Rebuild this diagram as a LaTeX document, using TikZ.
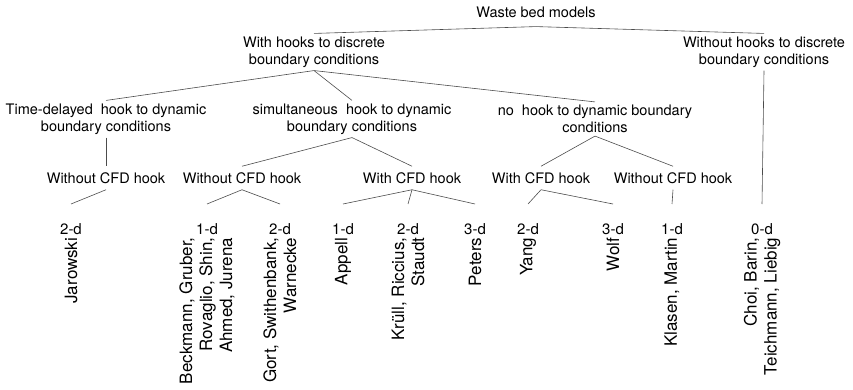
\documentclass[tikz,border=0pt]{standalone}
\usepackage{fontspec}
\setmainfont{TeX Gyre Heros}
\usepackage{tikz}
\usepackage{xcolor}
\usetikzlibrary{positioning}
\tikzstyle{group}=[align=center, inner sep=3pt, font=\fontsize{14.5}{17}\selectfont]
\tikzstyle{hook}=[group, inner ysep=6pt]
\tikzstyle{dim}=[inner sep=2pt, font=\fontsize{15}{18}\selectfont]
\tikzstyle{authors}=[rotate=90, anchor=east, align=right, inner sep=1pt, font=\fontsize{17}{20}\selectfont]
\tikzstyle{branch}=[draw=black!70, line width=0.6pt]

\begin{document}
\begin{tikzpicture}[x=1pt, y=-1pt]
    \useasboundingbox (0,0) rectangle (853,390);

    \node[group, inner ysep=9pt] (models) at (536,12) {Waste bed models};
    \node[group] (withhooks) at (314,52) {With hooks to discrete\\boundary conditions};
    \node[group] (nohooks)   at (764,52) {Without hooks to discrete\\boundary conditions};

    \node[group] (delayed) at (106,119) {Time-delayed~ hook to dynamic\\boundary conditions};
    \node[group] (simult)  at (352,119) {simultaneous~ hook to dynamic\\boundary conditions};
    \node[group] (nodyn)   at (595,119) {no~ hook to dynamic boundary\\conditions};

    \node[hook] (hook1) at (106,178) {Without CFD hook};
    \node[hook] (hook2) at (242,178) {Without CFD hook};
    \node[hook] (hook3) at (412,178) {With CFD hook};
    \node[hook] (hook4) at (541,178) {With CFD hook};
    \node[hook] (hook5) at (673,178) {Without CFD hook};

    % leaf ends
    \coordinate (leaf1)  at (71,204);
    \coordinate (leaf2)  at (207,204);
    \coordinate (leaf3)  at (280,204);
    \coordinate (leaf4)  at (343,204);
    \coordinate (leaf5)  at (408,204);
    \coordinate (leaf6)  at (475,204);
    \coordinate (leaf7)  at (528,204);
    \coordinate (leaf8)  at (613,204);
    \coordinate (leaf9)  at (672,204);
    \coordinate (leaf10) at (762,204);

    \node[dim] (dim1)  [below = 17pt of leaf1]  {2-d};
    \node[dim] (dim2)  [below = 17pt of leaf2]  {1-d};
    \node[dim] (dim3)  [below = 17pt of leaf3]  {2-d};
    \node[dim] (dim4)  [below = 17pt of leaf4]  {1-d};
    \node[dim] (dim5)  [below = 17pt of leaf5]  {2-d};
    \node[dim] (dim6)  [below = 17pt of leaf6]  {3-d};
    \node[dim] (dim7)  [below = 17pt of leaf7]  {2-d};
    \node[dim] (dim8)  [below = 17pt of leaf8]  {3-d};
    \node[dim] (dim9)  [below = 17pt of leaf9]  {1-d};
    \node[dim] (dim10) [below = 17pt of leaf10] {0-d};

    \node[authors] (auth1)  at (dim1.south)  {Jarowski};
    \node[authors] (auth2)  at (dim2.south)  {Beckmann, Gruber,\\Rovaglio, Shin,\\Ahmed, Jurena};
    \node[authors] (auth3)  at (dim3.south)  {Gort, Swithenbank,\\Warnecke};
    \node[authors] (auth4)  at (dim4.south)  {Appell};
    \node[authors] (auth5)  at (dim5.south)  {Krüll, Riccius,\\Staudt};
    \node[authors] (auth6)  at (dim6.south)  {Peters};
    \node[authors] (auth7)  at (dim7.south)  {Yang};
    \node[authors] (auth8)  at (dim8.south)  {Wolf};
    \node[authors] (auth9)  at (dim9.south)  {Klasen, Martin};
    \node[authors] (auth10) at (dim10.south) {Choi, Barin,\\Teichmann, Liebig};

    \draw[branch] (models.south) -- (withhooks.north);
    \draw[branch] (models.south) -- (nohooks.north);
    \draw[branch] (withhooks.south) -- (delayed.north);
    \draw[branch] (withhooks.south) -- (simult.north);
    \draw[branch] (withhooks.south) -- (nodyn.north);
    \draw[branch] (delayed.south) -- (hook1.north);
    \draw[branch] (simult.south) -- (hook2.north);
    \draw[branch] (simult.south) -- (hook3.north);
    \draw[branch] (nodyn.south) -- (hook4.north);
    \draw[branch] (nodyn.south) -- (hook5.north);
    \draw[branch] (hook1.south) -- (leaf1);
    \draw[branch] (hook2.south) -- (leaf2);
    \draw[branch] (hook2.south) -- (leaf3);
    \draw[branch] (hook3.south) -- (leaf4);
    \draw[branch] (hook3.south) -- (leaf5);
    \draw[branch] (hook3.south) -- (leaf6);
    \draw[branch] (hook4.south) -- (leaf7);
    \draw[branch] (hook4.south) -- (leaf8);
    \draw[branch] (hook5.south) -- (leaf9);
    \draw[branch] (nohooks.south) -- (leaf10);
\end{tikzpicture}
\end{document}
